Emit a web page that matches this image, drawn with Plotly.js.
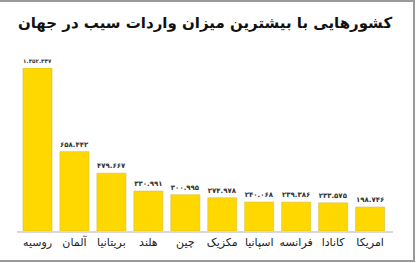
<!DOCTYPE html>
<html><head><meta charset="utf-8">
<script src="https://cdn.plot.ly/plotly-3.0.1.min.js"></script>
<style>
html,body{margin:0;padding:0;background:#fff;}
#frame{position:absolute;left:0;top:0;width:413px;height:258px;border-top:2px solid #9a9a9a;border-right:2px solid #9a9a9a;border-bottom:2px solid #9a9a9a;box-sizing:content-box;}
#chart{position:absolute;left:0;top:0;width:418px;height:263px;}
</style></head>
<body>
<div id="frame"></div>
<div id="chart"></div>
<script>
const titleText = 'کشورهایی با بیشترین میزان واردات سیب در جهان';
const countries = ['روسیه','آلمان','بریتانیا','هلند','چین','مکزیک','اسپانیا','فرانسه','کانادا','امریکا'];
const imports = [1352347, 658442, 479667, 330991, 300995, 274978, 240068, 239386, 233575, 198746];

const faDigits = '۰۱۲۳۴۵۶۷۸۹';
function fmt(v){
  const s = String(v).replace(/\B(?=(\d{3})+(?!\d))/g, '.');
  return s.replace(/\d/g, d => faDigits[+d]);
}
const labels = imports.map(fmt);

const trace = {
  type:'bar', x: countries, y: imports, text: labels,
  textposition:'outside', cliponaxis:false,
  textfont:{family:'DejaVu Sans', size:7, color:'#333', weight:'bold'},
  marker:{color:'#FFD800', line:{color:'#d9bd3a', width:0.6}},
  hoverinfo:'none'
};
const layout = {
  width:418, height:263,
  margin:{l:17, r:25, t:68, b:32, pad:0},
  paper_bgcolor:'rgba(0,0,0,0)', plot_bgcolor:'rgba(0,0,0,0)',
  bargap:0.215,
  title:{text:'<b>'+titleText+'</b>', font:{family:'DejaVu Sans', size:15, color:'#111'},
         x:0.5, xanchor:'center', y:1-23/263, yanchor:'middle', yref:'container', xref:'paper'},
  xaxis:{range:[-0.555, 9.62], showline:true, linecolor:'#d8d8d8', linewidth:2, ticks:'',
         tickfont:{family:'DejaVu Sans', size:11, color:'#222'}, showgrid:false, zeroline:false, fixedrange:true},
  yaxis:{range:[0, 1352347], visible:false, showgrid:false, zeroline:false, fixedrange:true},
  showlegend:false
};
Plotly.newPlot('chart', [trace], layout, {displayModeBar:false, staticPlot:true});
</script>
</body></html>
